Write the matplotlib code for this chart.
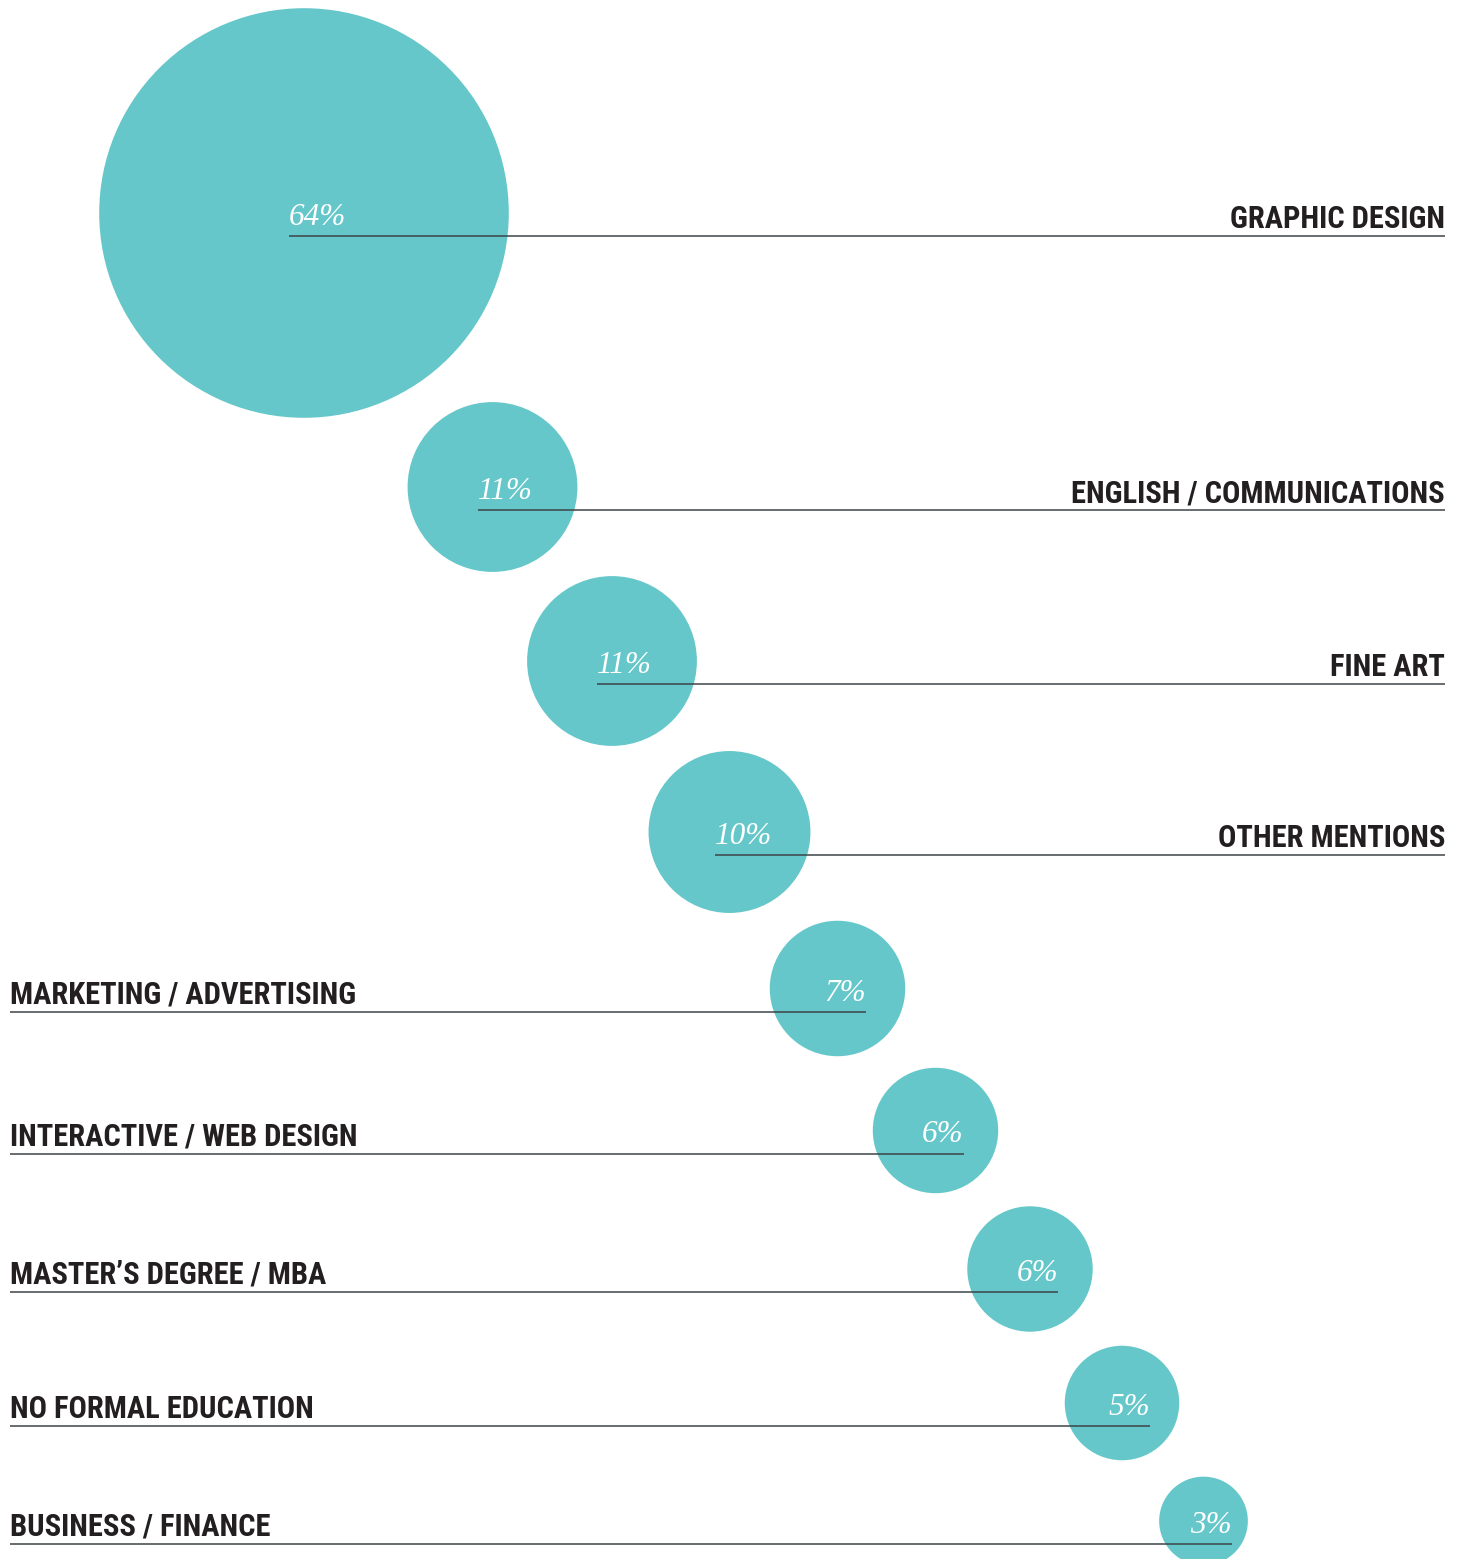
#!/usr/bin/env python3
"""Bubble ladder: educational background of respondents, bubble area ~ share."""
import numpy as np
import matplotlib
matplotlib.use("Agg")
import matplotlib.pyplot as plt
from matplotlib import font_manager
from matplotlib.patches import Circle

OUT = "out.png"

# --- data ---
categories = [
    "GRAPHIC DESIGN",
    "ENGLISH / COMMUNICATIONS",
    "FINE ART",
    "OTHER MENTIONS",
    "MARKETING / ADVERTISING",
    "INTERACTIVE / WEB DESIGN",
    "MASTER\u2019S DEGREE / MBA",
    "NO FORMAL EDUCATION",
    "BUSINESS / FINANCE",
]
shares = [64, 11, 11, 10, 7, 6, 6, 5, 3]

# --- layout (pixel canvas, y grows downward) ---
W, H = 1466, 1559
centers_x = [304, 492.5, 612, 729.5, 837.5, 935.5, 1030, 1122, 1203.5]
centers_y = [213, 487, 661, 832, 988.5, 1130.5, 1269, 1403, 1521]
N_RIGHT = 4          # first rows carry their label on the right
RIGHT_EDGE = 1445
LEFT_EDGE = 10
PX_PER_SQRT = 25.6   # radius = k * sqrt(share), so area tracks the share

TEAL = "#65c7c9"
INK = "#231f20"
RULE = "#3d4446"


def pick_family(prefs):
    names = {f.name for f in font_manager.fontManager.ttflist}
    for name in prefs:
        if name in names:
            return name
    return "DejaVu Sans"


label_family = pick_family(["Roboto Condensed", "Liberation Sans Narrow",
                            "DejaVu Sans Condensed", "Roboto", "DejaVu Sans"])
pct_family = pick_family(["Liberation Serif", "DejaVu Serif"])


def main():
    fig = plt.figure(figsize=(W / 100, H / 100), dpi=100)
    ax = fig.add_axes([0, 0, 1, 1])
    ax.set_xlim(0, W)
    ax.set_ylim(H, 0)
    ax.axis("off")

    label_kw = dict(fontsize=22, fontweight="bold", fontstretch="condensed",
                    family=label_family, color=INK, va="baseline", zorder=3)
    pct_kw = dict(fontsize=22.5, style="italic", family=pct_family,
                  color="white", va="baseline", zorder=3)

    for i, (cat, share) in enumerate(zip(categories, shares)):
        cx, cy = centers_x[i], centers_y[i]
        r = PX_PER_SQRT * np.sqrt(share)
        ax.add_patch(Circle((cx, cy), r, facecolor=TEAL, edgecolor="none", zorder=1))
        line_y = cy + 23

        if i < N_RIGHT:
            x0, x1 = cx - 15, RIGHT_EDGE
            ax.text(RIGHT_EDGE, line_y - 8, cat, ha="right", **label_kw)
            ax.text(x0, line_y - 11, f"{share}%", ha="left", **pct_kw)
        else:
            x0, x1 = LEFT_EDGE, cx + 28
            ax.text(LEFT_EDGE, line_y - 8, cat, ha="left", **label_kw)
            ax.text(x1, line_y - 11, f"{share}%", ha="right", **pct_kw)

        ax.plot([x0, x1], [line_y, line_y], color=RULE, lw=1.1,
                solid_capstyle="butt", zorder=2)

    fig.savefig(OUT, dpi=100)


if __name__ == "__main__":
    main()
